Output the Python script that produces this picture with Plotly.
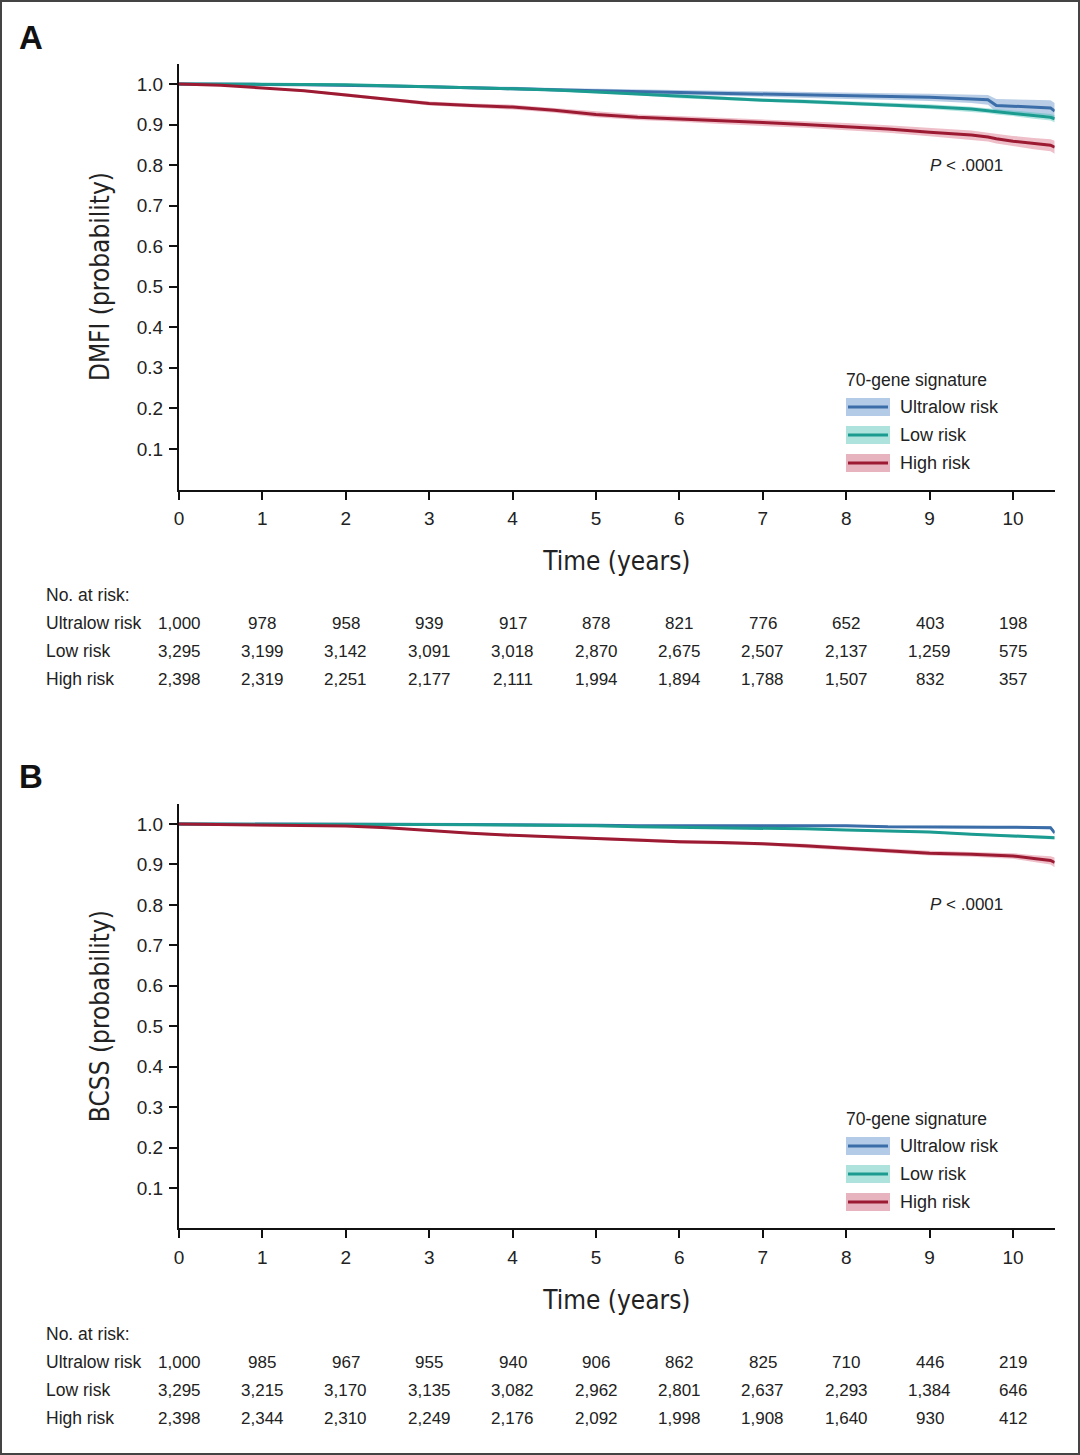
import plotly.graph_objects as go

W, H = 1080, 1455
def px(x): return x / W
def py(y): return 1 - y / H

# ---------------- data ----------------
times = [0, 0.5, 1, 1.5, 2, 2.5, 3, 3.5, 4, 4.5, 5, 5.5, 6, 6.5, 7, 7.5, 8, 8.5, 9, 9.5, 9.7, 9.8, 10, 10.25, 10.45, 10.5]
series_names = ["Ultralow risk", "Low risk", "High risk"]

# Panel A: DMFI
dmfi_ultralow = [1, 1, .999, .998, .997, .995, .993, .991, .989, .986, .983, .981, .979, .977, .975, .973, .971, .969, .967, .963, .961, .947, .945, .943, .941, .933]
dmfi_low = [1, 1, 1, .999, .998, .996, .994, .991, .988, .985, .980, .975, .969, .964, .960, .957, .953, .949, .944, .938, .934, .932, .928, .922, .918, .914]
dmfi_high = [1, .997, .990, .983, .973, .962, .952, .947, .943, .935, .925, .918, .914, .909, .905, .900, .895, .889, .881, .874, .869, .865, .859, .853, .849, .844]
dmfi_ci_ultralow = [0, 0, .001, .001, .002, .002, .003, .003, .004, .004, .005, .005, .006, .006, .007, .007, .008, .008, .009, .010, .012, .016, .017, .018, .019, .020]
dmfi_ci_low = [0, 0, 0, .001, .001, .001, .002, .002, .002, .003, .003, .003, .004, .004, .004, .005, .005, .005, .006, .006, .006, .007, .007, .008, .008, .009]
dmfi_ci_high = [0, .001, .002, .003, .004, .004, .005, .005, .006, .006, .007, .007, .007, .008, .008, .008, .009, .009, .010, .011, .011, .012, .013, .014, .015, .016]

# Panel B: BCSS
bcss_ultralow = [1, 1, 1, 1, 1, 1, .999, .999, .998, .998, .997, .996, .996, .996, .996, .996, .996, .993, .992, .992, .992, .992, .992, .992, .991, .978]
bcss_low = [1, 1, 1, 1, 1, 1, .999, .998, .997, .997, .996, .993, .992, .991, .990, .988, .985, .983, .980, .975, .973, .972, .970, .968, .967, .966]
bcss_high = [1, .999, .998, .997, .995, .991, .984, .977, .972, .968, .965, .961, .956, .954, .951, .946, .940, .934, .928, .925, .924, .923, .921, .915, .910, .905]
bcss_ci_ultralow = [0, 0, 0, 0, 0, 0, .001, .001, .001, .001, .001, .002, .002, .002, .002, .002, .002, .003, .003, .003, .003, .003, .003, .004, .004, .006]
bcss_ci_low = [0, 0, 0, 0, 0, 0, 0, .001, .001, .001, .001, .001, .001, .002, .002, .002, .002, .002, .003, .003, .003, .003, .004, .004, .004, .004]
bcss_ci_high = [0, 0, .001, .001, .001, .002, .002, .003, .003, .003, .003, .004, .004, .004, .004, .005, .005, .005, .006, .006, .006, .007, .007, .008, .010, .012]

# Numbers at risk (years 0..10)
risk_years = list(range(11))
risk_a_ultralow = [1000, 978, 958, 939, 917, 878, 821, 776, 652, 403, 198]
risk_a_low = [3295, 3199, 3142, 3091, 3018, 2870, 2675, 2507, 2137, 1259, 575]
risk_a_high = [2398, 2319, 2251, 2177, 2111, 1994, 1894, 1788, 1507, 832, 357]
risk_b_ultralow = [1000, 985, 967, 955, 940, 906, 862, 825, 710, 446, 219]
risk_b_low = [3295, 3215, 3170, 3135, 3082, 2962, 2801, 2637, 2293, 1384, 646]
risk_b_high = [2398, 2344, 2310, 2249, 2176, 2092, 1998, 1908, 1640, 930, 412]

y_ticks = [0.1, 0.2, 0.3, 0.4, 0.5, 0.6, 0.7, 0.8, 0.9, 1.0]
x_ticks = list(range(11))

# ---------------- styles ----------------
line_colors = ["#3b6ea8", "#1c9c90", "#9c1b33"]
band_colors = ["rgba(70,125,190,0.38)", "rgba(40,180,170,0.35)", "rgba(205,70,100,0.35)"]
swatch_colors = ["#b3cbe6", "#ade2dd", "#e6b3bf"]
TXT = "#222222"
FONT = "Liberation Sans, Arial, sans-serif"
NARROW = "Liberation Sans Narrow, DejaVu Sans Condensed, Arial Narrow, Liberation Sans, sans-serif"

panels = [
    dict(label="A", ytitle="DMFI (probability)", xa="x", ya="y",
         curves=[dmfi_ultralow, dmfi_low, dmfi_high],
         cis=[dmfi_ci_ultralow, dmfi_ci_low, dmfi_ci_high],
         risk=[risk_a_ultralow, risk_a_low, risk_a_high],
         y0=489.5, y1=63.7, label_y=37, p_y=165, leg_y=380, risk_y=595),
    dict(label="B", ytitle="BCSS (probability)", xa="x2", ya="y2",
         curves=[bcss_ultralow, bcss_low, bcss_high],
         cis=[bcss_ci_ultralow, bcss_ci_low, bcss_ci_high],
         risk=[risk_b_ultralow, risk_b_low, risk_b_high],
         y0=1228.4, y1=803.8, label_y=776, p_y=904, leg_y=1119, risk_y=1334),
]

X0, X1 = 179, 1054.7

fig = go.Figure()
annotations = []
shapes = []

for i, p in enumerate(panels):
    # confidence bands
    for k in range(3):
        c = p["curves"][k]
        ci = p["cis"][k]
        lo = [v - e for v, e in zip(c, ci)]
        hi = [min(v + e, 1.0) for v, e in zip(c, ci)]
        fig.add_trace(go.Scatter(x=times, y=lo, mode="lines", line=dict(width=0),
                                 xaxis=p["xa"], yaxis=p["ya"], showlegend=False, hoverinfo="skip"))
        fig.add_trace(go.Scatter(x=times, y=hi, mode="lines", line=dict(width=0),
                                 fill="tonexty", fillcolor=band_colors[k],
                                 xaxis=p["xa"], yaxis=p["ya"], showlegend=False, hoverinfo="skip"))
    for k in range(3):
        fig.add_trace(go.Scatter(x=times, y=p["curves"][k], mode="lines", name=series_names[k],
                                 line=dict(color=line_colors[k], width=3),
                                 xaxis=p["xa"], yaxis=p["ya"], showlegend=False))

    # panel letter
    annotations.append(dict(text="<b>%s</b>" % p["label"], x=px(31), y=py(p["label_y"]), xref="paper", yref="paper",
                            showarrow=False, xanchor="center", yanchor="middle",
                            font=dict(family=FONT, size=33, color="#111")))
    # P value
    annotations.append(dict(text="<i>P</i> < .0001", x=px(966), y=py(p["p_y"]), xref="paper", yref="paper",
                            showarrow=False, xanchor="center", yanchor="middle",
                            font=dict(family=FONT, size=17, color=TXT)))
    # legend
    ly = p["leg_y"]
    annotations.append(dict(text="70-gene signature", x=px(844), y=py(ly), xref="paper", yref="paper",
                            showarrow=False, xanchor="left", yanchor="middle",
                            font=dict(family=FONT, size=17.5, color=TXT)))
    for k in range(3):
        cy = ly + 27 + 28 * k
        shapes.append(dict(type="rect", xref="paper", yref="paper", x0=px(846), x1=px(890),
                           y0=py(cy + 9), y1=py(cy - 9), fillcolor=swatch_colors[k], line=dict(width=0)))
        shapes.append(dict(type="line", xref="paper", yref="paper", x0=px(848), x1=px(888),
                           y0=py(cy), y1=py(cy), line=dict(color=line_colors[k], width=3)))
        annotations.append(dict(text=series_names[k], x=px(898), y=py(cy), xref="paper", yref="paper",
                                showarrow=False, xanchor="left", yanchor="middle",
                                font=dict(family=FONT, size=18, color=TXT)))
    # risk table
    ry = p["risk_y"]
    annotations.append(dict(text="No. at risk:", x=px(44), y=py(ry), xref="paper", yref="paper",
                            showarrow=False, xanchor="left", yanchor="middle",
                            font=dict(family=FONT, size=17.5, color=TXT)))
    for k in range(3):
        rowy = ry + 28 * (k + 1)
        annotations.append(dict(text=series_names[k], x=px(44), y=py(rowy), xref="paper", yref="paper",
                                showarrow=False, xanchor="left", yanchor="middle",
                                font=dict(family=FONT, size=17.5, color=TXT)))
        for yr, n in zip(risk_years, p["risk"][k]):
            annotations.append(dict(text=f"{n:,}", x=yr, y=py(rowy), xref=p["xa"], yref="paper",
                                    showarrow=False, xanchor="center", yanchor="middle",
                                    font=dict(family=FONT, size=17, color=TXT)))

axis_common = dict(showgrid=False, zeroline=False, showline=True, linecolor="#111", linewidth=2,
                   ticks="outside", ticklen=8, tickwidth=1.5, tickcolor="#111",
                   tickfont=dict(family=FONT, size=19, color=TXT))

layout_axes = {}
for i, p in enumerate(panels):
    xs = "xaxis" if i == 0 else "xaxis2"
    ys = "yaxis" if i == 0 else "yaxis2"
    layout_axes[xs] = dict(axis_common, domain=[px(X0), px(X1)], range=[0, 10.5],
                           tickvals=x_ticks, anchor=p["ya"], ticklabelstandoff=3,
                           title=dict(text="Time (years)", standoff=24,
                                      font=dict(family=NARROW, size=26, color=TXT)))
    layout_axes[ys] = dict(axis_common, domain=[py(p["y0"]), py(p["y1"])], range=[0, 1.05],
                           tickvals=y_ticks, ticktext=[f"{v:.1f}" for v in y_ticks], anchor=p["xa"],
                           ticklabelstandoff=2,
                           title=dict(text=p["ytitle"], standoff=20,
                                      font=dict(family=NARROW, size=26, color=TXT)))

shapes.append(dict(type="rect", xref="paper", yref="paper", x0=px(1), x1=px(1079), y0=py(1454), y1=py(1),
                   line=dict(color="#444", width=2), fillcolor="rgba(0,0,0,0)", layer="above"))

fig.update_layout(width=W, height=H, margin=dict(l=0, r=0, t=0, b=0, autoexpand=False),
                  paper_bgcolor="white", plot_bgcolor="white", showlegend=False,
                  annotations=annotations, shapes=shapes, **layout_axes)

fig.write_html("out.html", config={"displayModeBar": False},
               post_script="document.body.style.margin='0';document.body.style.overflow='hidden';")
